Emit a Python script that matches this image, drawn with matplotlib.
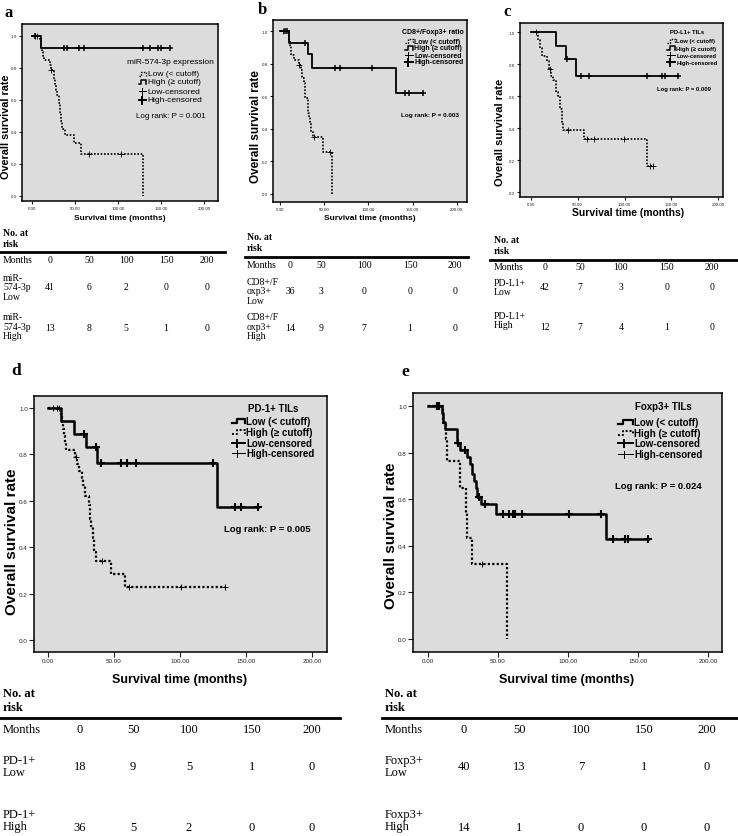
import matplotlib
matplotlib.use("Agg")
import matplotlib.pyplot as plt
from matplotlib.lines import Line2D
import numpy as np

plt.rcParams["font.family"] = ["Liberation Sans", "DejaVu Sans"]

W, H = 738, 837
SERIF = ["Liberation Serif", "DejaVu Serif"]

# ---------------- data ----------------
months = [0, 50, 100, 150, 200]
x_ticks = [0, 50, 100, 150, 200]
y_ticks = [0.0, 0.2, 0.4, 0.6, 0.8, 1.0]

# a: miR-574-3p
a_low_t = [0, 9, 10, 11, 12, 13, 14, 21, 22, 25, 26, 27, 28, 29, 31, 32, 33, 34, 35, 38, 49, 57, 129]
a_low_s = [1.0, 0.975, 0.95, 0.925, 0.90, 0.875, 0.85, 0.82, 0.79, 0.76, 0.73, 0.70, 0.66, 0.63,
           0.58, 0.55, 0.52, 0.47, 0.42, 0.38, 0.33, 0.26, 0.0]
a_low_cens = [3, 6, 22, 66, 103]
a_high_t = [0, 11, 160]
a_high_s = [1.0, 0.923, 0.923]
a_high_cens = [4, 37, 41, 55, 60, 129, 137, 146, 150, 160]

# b: CD8+/Foxp3+ ratio
b_low_t = [0, 10, 11, 12, 13, 16, 21, 24, 25, 27, 28, 32, 33, 34, 35, 37, 49, 59]
b_low_s = [1.0, 0.94, 0.91, 0.88, 0.85, 0.82, 0.79, 0.76, 0.71, 0.68, 0.59, 0.50, 0.47, 0.44,
           0.38, 0.35, 0.26, 0.0]
b_low_cens = [3, 22, 39, 57]
b_high_t = [0, 10, 32, 36, 131, 162]
b_high_s = [1.0, 0.929, 0.857, 0.774, 0.619, 0.619]
b_high_cens = [6, 8, 28, 62, 68, 104, 141, 146, 162]

# c: PD-L1+ TILs
c_low_t = [0, 8, 10, 12, 17, 20, 22, 24, 27, 29.5, 31, 33, 34, 57, 124, 130]
c_low_s = [1.0, 0.95, 0.90, 0.85, 0.82, 0.77, 0.73, 0.70, 0.63, 0.60, 0.52, 0.44, 0.39, 0.333,
           0.167, 0.167]
c_low_cens = [6, 21, 40, 60, 67, 99, 127, 130]
c_high_t = [0, 27, 38, 48, 157]
c_high_s = [1.0, 0.917, 0.833, 0.729, 0.729]
c_high_cens = [39, 54, 62, 124, 140, 143, 157]

# d: PD-1+ TILs
d_low_t = [0, 10, 20, 29, 37, 128, 159]
d_low_s = [1.0, 0.944, 0.889, 0.833, 0.764, 0.573, 0.573]
d_low_cens = [27, 36, 40, 55, 60, 67, 125, 142, 146, 159]
d_high_t = [0, 10, 10.7, 11.6, 12.3, 13, 14, 20.5, 22.3, 23.5, 25.5, 26.8, 28, 30.8, 31.8,
            32.6, 33.8, 34.8, 36, 48, 58, 134]
d_high_s = [1.0, 0.97, 0.94, 0.91, 0.88, 0.85, 0.82, 0.79, 0.76, 0.73, 0.70, 0.67, 0.62, 0.58,
            0.52, 0.49, 0.44, 0.38, 0.34, 0.285, 0.228, 0.228]
d_high_cens = [4, 6.6, 8.6, 21, 41, 61, 101, 134]

# e: Foxp3+ TILs
e_low_t = [0, 9.8, 10.5, 12.1, 20.9, 22.9, 27.6, 30, 31.7, 32.9, 34.3, 35.2, 37.6, 48.6, 126.9, 157.4]
e_low_s = [1.0, 0.97, 0.93, 0.90, 0.84, 0.81, 0.78, 0.75, 0.71, 0.68, 0.65, 0.61, 0.58, 0.537,
           0.43, 0.43]
e_low_cens = [6.2, 7.9, 21.2, 26.4, 36.7, 40.7, 53.8, 58.1, 60.5, 62.4, 66.9, 100.7, 123.3,
              132.4, 140.7, 143.1, 157.4]
e_high_t = [0, 11, 12.5, 13.8, 22.6, 26.9, 28.1, 31.7, 56.6]
e_high_s = [1.0, 0.929, 0.857, 0.762, 0.648, 0.54, 0.432, 0.324, 0.0]
e_high_cens = [38.8]

# numbers at risk
a_labels = ["miR-\n574-3p\nLow", "miR-\n574-3p\nHigh"]
a_risk_low = [41, 6, 2, 0, 0]
a_risk_high = [13, 8, 5, 1, 0]
b_labels = ["CD8+/F\noxp3+\nLow", "CD8+/F\noxp3+\nHigh"]
b_risk_low = [36, 3, 0, 0, 0]
b_risk_high = [14, 9, 7, 1, 0]
c_labels = ["PD-L1+\nLow", "PD-L1+\nHigh"]
c_risk_low = [42, 7, 3, 0, 0]
c_risk_high = [12, 7, 4, 1, 0]
d_labels = ["PD-1+\nLow", "PD-1+\nHigh"]
d_risk_low = [18, 9, 5, 1, 0]
d_risk_high = [36, 5, 2, 0, 0]
e_labels = ["Foxp3+\nLow", "Foxp3+\nHigh"]
e_risk_low = [40, 13, 7, 1, 0]
e_risk_high = [14, 1, 0, 0, 0]

fig = plt.figure(figsize=(W / 100, H / 100), dpi=100)


def fx(x):
    return x / W


def fy(y):
    return 1 - y / H


def text(x, y, s, **kw):
    fig.text(fx(x), fy(y), s, **kw)


def make_axes(l, t, r, b, x0, x200, y1, y0, tick_fs, tick_len):
    ax = fig.add_axes([fx(l), fy(b), fx(r - l), (b - t) / H])
    ax.set_facecolor("#dcdcdc")
    ppx = (x200 - x0) / 200.0
    ppy = (y0 - y1) / 1.0
    ax.set_xlim((l - x0) / ppx, (r - x0) / ppx)
    ax.set_ylim((y0 - b) / ppy, (y0 - t) / ppy)
    ax.set_xticks(x_ticks)
    ax.set_xticklabels([f"{v:.2f}" for v in x_ticks])
    ax.set_yticks(y_ticks)
    ax.set_yticklabels([f"{v:.1f}" for v in y_ticks])
    ax.tick_params(direction="out", length=tick_len, width=0.8, labelsize=tick_fs,
                   colors="#222222", pad=1)
    for sp in ax.spines.values():
        sp.set_color("black")
        sp.set_linewidth(1.1)
    return ax


def km(ax, t, s, cens, dotted, lw, ms, mew):
    ls = (0, (1, 1)) if dotted else "-"
    ax.step(t, s, where="post", color="black", lw=lw, ls=ls)
    ta = np.asarray(t, dtype=float)
    sa = np.asarray(s, dtype=float)
    lvl = sa[np.searchsorted(ta, cens, side="right") - 1]
    ax.plot(cens, lvl, ls="none", marker="+", ms=ms, mew=mew, color="black")


def draw_legend(title, tcx, tcy, entries, xh0, xh1, ys, fs, weight, lws):
    text(tcx, tcy, title, fontsize=fs, fontweight=weight, ha="center", va="center")
    for (lab, kind), y in zip(entries, ys):
        if kind in ("solid", "dot"):
            ls = "-" if kind == "solid" else (0, (1, 1))
            xm = xh0 + 0.35 * (xh1 - xh0)
            fig.add_artist(Line2D([fx(xh0), fx(xm), fx(xm), fx(xh1), fx(xh1)],
                                  [fy(y + 2), fy(y + 2), fy(y - 2.5), fy(y - 2.5), fy(y + 2)],
                                  color="black", lw=lws[0] if kind == "solid" else lws[1],
                                  ls=ls, transform=fig.transFigure))
        else:
            mw = 1.4 if kind == "cens_bold" else 0.7
            fig.add_artist(Line2D([fx(xh0), fx(xh1)], [fy(y), fy(y)], color="black",
                                  lw=mw, transform=fig.transFigure))
            fig.add_artist(Line2D([fx(xh0 + 0.4 * (xh1 - xh0))] * 2, [fy(y - 3.5), fy(y + 3.5)],
                                  color="black", lw=mw, transform=fig.transFigure))
        text(xh1 + 1.5, y, lab, fontsize=fs, fontweight=weight, ha="left", va="center")


def risk_table(x_lab, cols, line_x0, line_x1, y_head, y_line, y_months, rows, fs, head_fs):
    text(x_lab, y_head, "No. at\nrisk", fontsize=head_fs, fontweight="bold", family=SERIF,
         ha="left", va="center", linespacing=1.15)
    fig.add_artist(Line2D([fx(line_x0), fx(line_x1)], [fy(y_line)] * 2, color="black", lw=2,
                          transform=fig.transFigure))
    text(x_lab, y_months, "Months", fontsize=fs, family=SERIF, ha="left", va="center")
    for c, m in zip(cols, months):
        text(c, y_months, str(m), fontsize=fs, family=SERIF, ha="center", va="center")
    for lab, y_lab, vals, y_val in rows:
        text(x_lab, y_lab, lab, fontsize=fs, family=SERIF, ha="left", va="center",
             linespacing=1.05)
        for c, v in zip(cols, vals):
            text(c, y_val, str(v), fontsize=fs, family=SERIF, ha="center", va="center")


# ---------------- panel a ----------------
ax = make_axes(22, 25, 218, 202, 32, 204, 37, 197, 3.2, 2.5)
km(ax, a_low_t, a_low_s, a_low_cens, True, 1.2, 4, 0.6)
km(ax, a_high_t, a_high_s, a_high_cens, False, 1.3, 4.5, 1.1)
text(9, 13, "a", fontsize=12, fontweight="bold", family=SERIF, ha="center", va="center")
text(6, 127, "Overall survival rate", fontsize=7.8, fontweight="bold", rotation=90,
     ha="center", va="center")
text(120, 219, "Survival time (months)", fontsize=6, fontweight="bold", ha="center", va="center")
draw_legend("miR-574-3p expression", 170, 63,
            [("Low (< cutoff)", "dot"), ("High (\u2265 cutoff)", "solid"),
             ("Low-censored", "cens"), ("High-censored", "cens_bold")],
            139, 146, [75, 83, 92, 101], 6, "normal", (1.1, 1.0))
text(171, 117, "Log rank: P = 0.001", fontsize=5.8, ha="center", va="center")
risk_table(3, [50, 89, 126, 166, 207], 0, 225, 239, 253, 261,
           [(a_labels[0], 288, a_risk_low, 288), (a_labels[1], 327, a_risk_high, 329)], 7, 7)

# ---------------- panel b ----------------
ax = make_axes(273, 21, 467, 203, 280, 456.7, 32, 195, 3.2, 2.5)
km(ax, b_low_t, b_low_s, b_low_cens, True, 1.2, 4, 0.6)
km(ax, b_high_t, b_high_s, b_high_cens, False, 1.3, 4.5, 1.1)
text(262, 10, "b", fontsize=12, fontweight="bold", family=SERIF, ha="center", va="center")
text(256, 127, "Overall survival rate", fontsize=8.5, fontweight="bold", rotation=90,
     ha="center", va="center")
text(370, 218, "Survival time (months)", fontsize=6, fontweight="bold", ha="center", va="center")
draw_legend("CD8+/Foxp3+ ratio", 433, 32,
            [("Low (< cutoff)", "dot"), ("High (\u2265 cutoff)", "solid"),
             ("Low-censored", "cens"), ("High-censored", "cens_bold")],
            405, 413, [42, 49, 56, 63], 5, "bold", (1.1, 1.0))
text(430, 116, "Log rank: P = 0.003", fontsize=4.6, fontweight="bold", ha="center", va="center")
risk_table(247, [290, 321, 364, 410, 455], 245, 468, 243, 258, 266,
           [(b_labels[0], 292, b_risk_low, 292), (b_labels[1], 327, b_risk_high, 329)], 7, 7)

# ---------------- panel c ----------------
ax = make_axes(520, 24, 723, 198, 530.7, 718.3, 33.3, 193.3, 3.2, 2.5)
km(ax, c_low_t, c_low_s, c_low_cens, True, 1.2, 4, 0.6)
km(ax, c_high_t, c_high_s, c_high_cens, False, 1.3, 4.5, 1.1)
text(507, 12, "c", fontsize=12, fontweight="bold", family=SERIF, ha="center", va="center")
text(500, 132, "Overall survival rate", fontsize=8, fontweight="bold", rotation=90,
     ha="center", va="center")
text(628, 213, "Survival time (months)", fontsize=7.5, fontweight="bold", ha="center", va="center")
draw_legend("PD-L1+ TILs", 687, 33,
            [("Low (< cutoff)", "dot"), ("High (\u2265 cutoff)", "solid"),
             ("Low-censored", "cens"), ("High-censored", "cens_bold")],
            667, 675, [42, 49, 56, 63], 4.2, "bold", (1.1, 1.0))
text(684, 90, "Log rank: P = 0.009", fontsize=4.2, fontweight="bold", ha="center", va="center")
risk_table(494, [545, 580, 621, 667, 712], 490, 738, 246, 261, 268,
           [(c_labels[0], 288, c_risk_low, 288), (c_labels[1], 321, c_risk_high, 328)], 7, 7)

# ---------------- panel d ----------------
ax = make_axes(34, 397, 327, 653, 48, 312, 409, 641, 4.5, 3.5)
km(ax, d_high_t, d_high_s, d_high_cens, True, 1.6, 4.5, 0.7)
km(ax, d_low_t, d_low_s, d_low_cens, False, 1.8, 6, 1.5)
text(16, 371, "d", fontsize=12.5, fontweight="bold", family=SERIF, ha="center", va="center")
text(12, 542, "Overall survival rate", fontsize=11, fontweight="bold", rotation=90,
     ha="center", va="center")
text(180, 680, "Survival time (months)", fontsize=9, fontweight="bold", ha="center", va="center")
draw_legend("PD-1+ TILs", 273, 409,
            [("Low (< cutoff)", "solid"), ("High (\u2265 cutoff)", "dot"),
             ("Low-censored", "cens_bold"), ("High-censored", "cens")],
            232, 245, [422, 433, 444, 454], 7, "bold", (1.6, 1.4))
text(267, 530, "Log rank: P = 0.005", fontsize=6.8, fontweight="bold", ha="center", va="center")
risk_table(3, [80, 133, 189, 252, 312], 0, 340, 701, 719, 730,
           [(d_labels[0], 767, d_risk_low, 767), (d_labels[1], 821, d_risk_high, 828)], 9, 9)

# ---------------- panel e ----------------
ax = make_axes(413, 394, 722, 653, 428, 708, 407, 640, 4.5, 3.5)
km(ax, e_high_t, e_high_s, e_high_cens, True, 1.6, 4.5, 0.7)
km(ax, e_low_t, e_low_s, e_low_cens, False, 1.8, 6, 1.5)
text(405, 372, "e", fontsize=12.5, fontweight="bold", family=SERIF, ha="center", va="center")
text(391, 536, "Overall survival rate", fontsize=11, fontweight="bold", rotation=90,
     ha="center", va="center")
text(567, 680, "Survival time (months)", fontsize=9, fontweight="bold", ha="center", va="center")
draw_legend("Foxp3+ TILs", 663, 407,
            [("Low (< cutoff)", "solid"), ("High (\u2265 cutoff)", "dot"),
             ("Low-censored", "cens_bold"), ("High-censored", "cens")],
            618, 633, [423, 434, 444, 455], 7, "bold", (1.6, 1.4))
text(658, 487, "Log rank: P = 0.024", fontsize=6.8, fontweight="bold", ha="center", va="center")
risk_table(385, [464, 519, 581, 644, 707], 382, 738, 701, 719, 730,
           [(e_labels[0], 767, e_risk_low, 767), (e_labels[1], 821, e_risk_high, 828)], 9, 9)

fig.savefig("out.png", dpi=100)
